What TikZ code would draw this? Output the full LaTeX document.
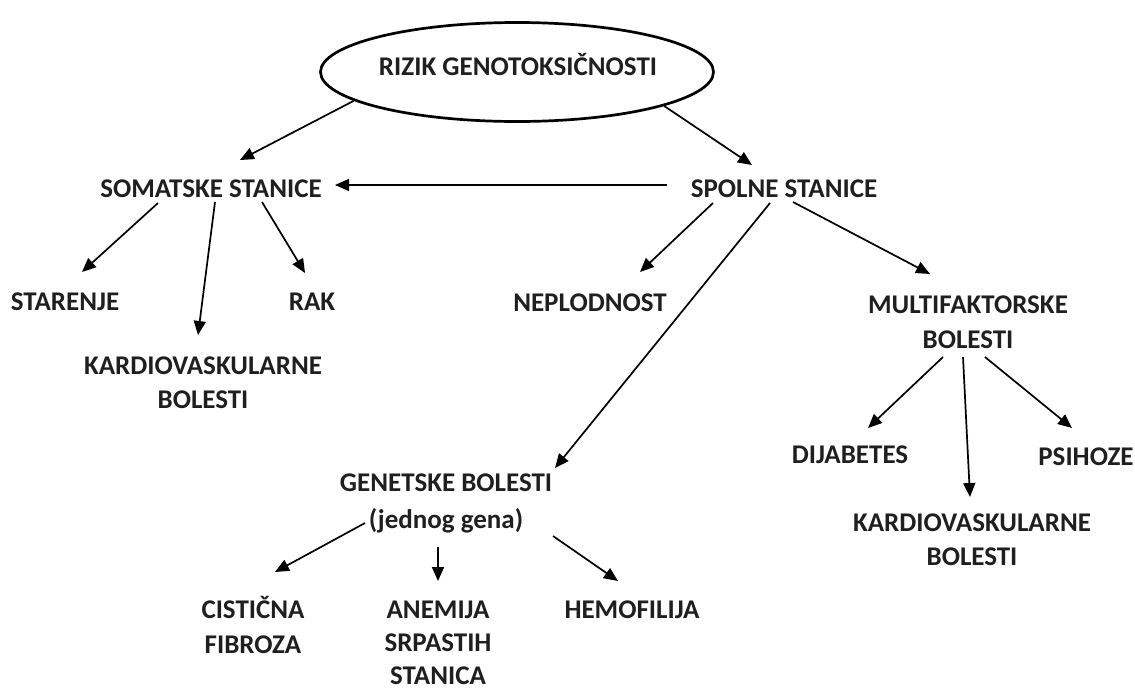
\documentclass[tikz,border=0pt]{standalone}
\usepackage{fontspec}
\setmainfont{Carlito}
\usetikzlibrary{arrows.meta,shapes.geometric}
\begin{document}
\begin{tikzpicture}[x=1pt,y=-1pt,
  lbl/.style={font=\bfseries\fontsize{27}{34}\selectfont, align=center, inner sep=0pt, anchor=base, text=black!88},
  arr/.style={line width=1.7pt, -{Triangle[length=14pt,width=12pt]}},
  rootshape/.style={ellipse, draw, line width=2.7pt, minimum width=393pt, minimum height=99pt, inner sep=0pt}]
\useasboundingbox (0,0) rectangle (1135,689);
% nodes (multi-line nodes are placed at the baseline of their last line)
\node[rootshape] (root) at (517,72) {};
\node[lbl] (roottxt) at (518,75) {RIZIK GENOTOKSIČNOSTI};
\node[lbl] (som) at (211,197) {SOMATSKE STANICE};
\node[lbl] (spol) at (784,197) {SPOLNE STANICE};
\node[lbl] (star) at (65,310) {STARENJE};
\node[lbl, font=\bfseries\fontsize{27}{34}\selectfont] (kard1) at (203,408) {KARDIOVASKULARNE\\BOLESTI};
\node[lbl] (rak) at (312,310) {RAK};
\node[lbl] (nepl) at (590,311) {NEPLODNOST};
\node[lbl, font=\bfseries\fontsize{27}{35}\selectfont] (multi) at (968,348) {MULTIFAKTORSKE\\BOLESTI};
\node[lbl] (dija) at (850,463) {DIJABETES};
\node[lbl, font=\bfseries\fontsize{27}{34}\selectfont] (kard2) at (972,565) {KARDIOVASKULARNE\\BOLESTI};
\node[lbl] (psih) at (1086,465) {PSIHOZE};
\node[lbl, font=\bfseries\fontsize{27}{37}\selectfont] (gen) at (446,528) {GENETSKE BOLESTI\\(jednog gena)};
\node[lbl, font=\bfseries\fontsize{27}{35}\selectfont] (cist) at (253,653) {CISTIČNA\\FIBROZA};
\node[lbl, font=\bfseries\fontsize{27}{33}\selectfont] (anem) at (438,684) {ANEMIJA\\SRPASTIH\\STANICA};
\node[lbl] (hemo) at (632,618) {HEMOFILIJA};
% connectors
\draw[arr] (root.190.5) -- ([shift={(29,-37)}]som.base);
\draw[arr] (root.347) -- ([shift={(-32,-32)}]spol.base);
\draw[arr] ([shift={(-117,-12)}]spol.base) -- ([shift={(124,-12)}]som.base);
\draw[arr] ([shift={(-53,6)}]som.base) -- ([shift={(17,-38)}]star.base);
\draw[arr] ([shift={(4,5)}]som.base) -- ([shift={(-5,-73)}]kard1.base);
\draw[arr] ([shift={(51,5)}]som.base) -- ([shift={(-7,-37)}]rak.base);
\draw[arr] ([shift={(-71,6)}]spol.base) -- ([shift={(50,-39)}]nepl.base);
\draw[arr] ([shift={(-14,6)}]spol.base) -- ([shift={(109,-60)}]gen.base);
\draw[arr] ([shift={(9,5)}]spol.base) -- ([shift={(-38,-74)}]multi.base);
\draw[arr] ([shift={(-25,9)}]multi.base) -- ([shift={(18,-35)}]dija.base);
\draw[arr] ([shift={(-5,9)}]multi.base) -- ([shift={(-2,-68)}]kard2.base);
\draw[arr] ([shift={(17,9)}]multi.base) -- ([shift={(-14,-37)}]psih.base);
\draw[arr] ([shift={(-81,-5)}]gen.base) -- ([shift={(22,-81)}]cist.base);
\draw[arr] ([shift={(-8,19)}]gen.base) -- ([shift={(0,-103)}]anem.base);
\draw[arr] ([shift={(107,8)}]gen.base) -- ([shift={(-14,-37)}]hemo.base);
\end{tikzpicture}
\end{document}
